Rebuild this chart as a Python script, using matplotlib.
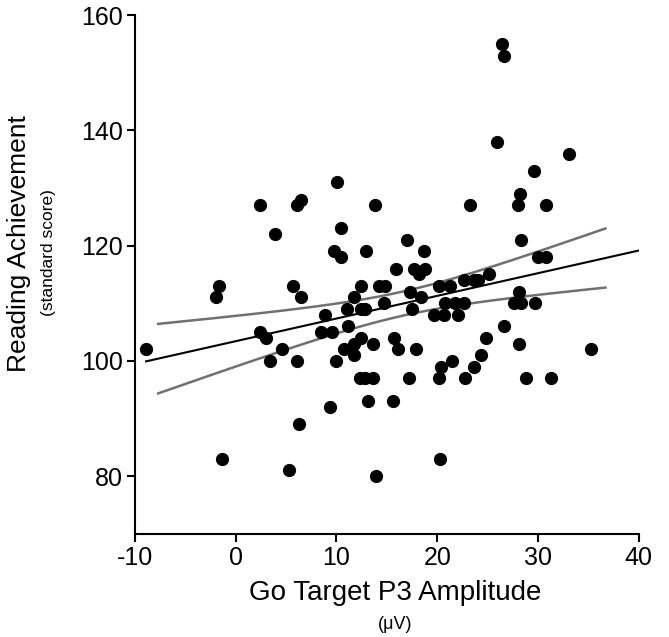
import numpy as np
import matplotlib
matplotlib.use('Agg')
import matplotlib.pyplot as plt

plt.rcParams['font.family'] = ['Liberation Sans', 'DejaVu Sans']
plt.rcParams['axes.unicode_minus'] = False

# Go target P3 amplitude (uV) and reading score
p3_amp = [26.4, 26.6, 25.9, 33.1, 29.6, 10.1, 2.4, 6.1, 6.5, 13.8, 23.3, 28.2, 28.0, 30.8,
          3.9, 10.4, 17.0, 28.3, 9.8, 10.4, 12.9, 18.7, 30.0, 30.8, 15.9, 17.7, 18.8, 18.2,
          25.1, 22.7, 23.7, 24.0, -1.7, 5.7, 12.4, 14.2, 14.8, 20.2, 21.3, 17.3, 28.1, -2.0,
          6.5, 11.7, 18.4, 14.7, 20.8, 21.8, 22.7, 27.6, 28.3, 29.7, 11.0, 12.4, 12.8, 17.5,
          19.7, 20.7, 22.1, 8.9, 11.1, 26.6, 2.4, 8.5, 9.6, 3.0, 12.4, 15.7, 24.8, 11.7,
          13.6, 28.1, -8.9, 4.6, 10.7, 16.1, 17.9, 35.3, 11.7, 24.3, 3.4, 6.1, 10.0, 21.5,
          20.4, 23.7, 12.3, 12.8, 13.6, 17.2, 20.2, 22.8, 28.8, 31.3, 13.1, 15.6, 9.4, 6.3,
          -1.4, 20.3, 5.3, 13.9]
reading = [155, 153, 138, 136, 133, 131, 127, 127, 128, 127, 127, 129, 127, 127,
           122, 123, 121, 121, 119, 118, 119, 119, 118, 118, 116, 116, 116, 115,
           115, 114, 114, 114, 113, 113, 113, 113, 113, 113, 113, 112, 112, 111,
           111, 111, 111, 110, 110, 110, 110, 110, 110, 110, 109, 109, 109, 109,
           108, 108, 108, 108, 106, 106, 105, 105, 105, 104, 104, 104, 104, 103,
           103, 103, 102, 102, 102, 102, 102, 102, 101, 101, 100, 100, 100, 100,
           99, 99, 97, 97, 97, 97, 97, 97, 97, 97, 93, 93, 92, 89,
           83, 83, 81, 80]

x_ticks = [-10, 0, 10, 20, 30, 40]
y_ticks = [80, 100, 120, 140, 160]
fit_range = [-8.9, 40]
band_range = [-7.7, 36.7]

x = np.array(p3_amp)
y = np.array(reading)

# least squares fit + 90% confidence band of the mean
slope, icpt = np.polyfit(x, y, 1)
n = len(x)
resid = y - (slope * x + icpt)
s = np.sqrt(np.sum(resid ** 2) / (n - 2))
sxx = np.sum((x - x.mean()) ** 2)
t = 1.66

fig = plt.figure(figsize=(6.69, 6.37), dpi=100)
ax = fig.add_axes([0.2018, 0.1623, 0.7529, 0.8137])

xb = np.linspace(band_range[0], band_range[1], 200)
half = t * s * np.sqrt(1 / n + (xb - x.mean()) ** 2 / sxx)
ax.plot(xb, slope * xb + icpt + half, color='#707070', lw=1.8)
ax.plot(xb, slope * xb + icpt - half, color='#707070', lw=1.8)

xf = np.array(fit_range)
ax.plot(xf, slope * xf + icpt, color='black', lw=1.5)

ax.plot(x, y, 'o', color='black', markersize=8.5, clip_on=False)

ax.set_xlim(-10, 40)
ax.set_ylim(70, 160)
ax.set_xticks(x_ticks)
ax.set_yticks(y_ticks)
ax.tick_params(labelsize=18, length=6, width=1.5, direction='out', pad=3)
for side in ['top', 'right']:
    ax.spines[side].set_visible(False)
for side in ['left', 'bottom']:
    ax.spines[side].set_linewidth(1.5)

fig.text(0.59, 0.069, 'Go Target P3 Amplitude', ha='center', va='center', fontsize=20)
fig.text(0.59, 0.019, '(\u03bcV)', ha='center', va='center', fontsize=13)
fig.text(0.028, 0.617, 'Reading Achievement', ha='center', va='center', rotation=90, fontsize=19)
fig.text(0.072, 0.604, '(standard score)', ha='center', va='center', rotation=90, fontsize=12.5)

fig.savefig('out.png', dpi=100)
